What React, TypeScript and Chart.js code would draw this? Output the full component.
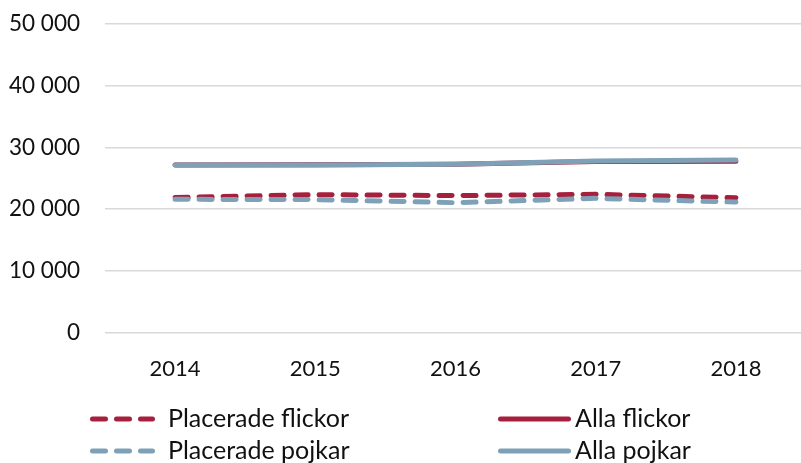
import React, { useEffect, useRef } from "react";
import { Chart, registerables } from "chart.js";

Chart.register(...registerables);

const years = ["2014", "2015", "2016", "2017", "2018"];
const placeradeFlickor = [21900, 22350, 22200, 22400, 21850];
const placeradePojkar = [21600, 21550, 21050, 21750, 21150];
const allaFlickor = [27150, 27200, 27250, 27700, 27750];
const allaPojkar = [27150, 27150, 27250, 27800, 27950];
const yTicks = [0, 10000, 20000, 30000, 40000, 50000];

const RED = "#A6203E";
const BLUE = "#7FA1B8";
const FONT = "Lato, 'Open Sans', sans-serif";
const TEXT = "#111";

const fmt = (v: number) => String(v).replace(/\B(?=(\d{3})+(?!\d))/g, " ");

const legendItems = [
  { label: "Placerade flickor", color: RED, dashed: true, x: 90, y: 419 },
  { label: "Alla flickor", color: RED, dashed: false, x: 498, y: 419 },
  { label: "Placerade pojkar", color: BLUE, dashed: true, x: 90, y: 451 },
  { label: "Alla pojkar", color: BLUE, dashed: false, x: 498, y: 451 },
];

export default function App() {
  const ref = useRef<HTMLCanvasElement | null>(null);

  useEffect(() => {
    if (!ref.current) return;
    const chart = new Chart(ref.current, {
      type: "line",
      data: {
        labels: years,
        datasets: [
          {
            label: "Placerade flickor",
            data: placeradeFlickor,
            borderColor: RED,
            borderWidth: 5,
            borderDash: [13, 11],
            borderCapStyle: "round",
            pointRadius: 0,
            tension: 0,
            order: 3,
          },
          {
            label: "Placerade pojkar",
            data: placeradePojkar,
            borderColor: BLUE,
            borderWidth: 5,
            borderDash: [13, 11],
            borderCapStyle: "round",
            pointRadius: 0,
            tension: 0,
            order: 2,
          },
          {
            label: "Alla flickor",
            data: allaFlickor,
            borderColor: RED,
            borderWidth: 5,
            borderCapStyle: "round",
            borderJoinStyle: "round",
            pointRadius: 0,
            tension: 0,
            order: 1,
          },
          {
            label: "Alla pojkar",
            data: allaPojkar,
            borderColor: BLUE,
            borderWidth: 5,
            borderCapStyle: "round",
            borderJoinStyle: "round",
            pointRadius: 0,
            tension: 0,
            order: 0,
          },
        ],
      },
      options: {
        responsive: false,
        animation: false,
        devicePixelRatio: 1,
        layout: { padding: { top: 9, right: 2, left: 0, bottom: 0 } },
        plugins: { legend: { display: false }, tooltip: { enabled: false } },
        scales: {
          x: {
            offset: true,
            grid: { display: false, drawTicks: false },
            border: { display: false },
            ticks: { color: TEXT, font: { family: FONT, size: 22 }, padding: 23, maxRotation: 0 },
            afterFit: (s: any) => {
              s.height = 67;
            },
          },
          y: {
            min: 0,
            max: 50000,
            afterBuildTicks: (s: any) => {
              s.ticks = yTicks.map((v) => ({ value: v }));
            },
            grid: { color: "#D9D9D9", lineWidth: 1.5, drawTicks: false },
            border: { display: false },
            ticks: {
              color: TEXT,
              font: { family: FONT, size: 22.5 },
              padding: 25,
              callback: (v: any) => fmt(Number(v)),
            },
            afterFit: (s: any) => {
              s.width = 105;
            },
          },
        },
      },
    });
    return () => chart.destroy();
  }, []);

  return (
    <div
      style={{
        position: "fixed",
        left: 0,
        top: 0,
        width: 801,
        height: 463,
        overflow: "hidden",
        background: "#fff",
      }}
    >
      <canvas
        ref={ref}
        width={808}
        height={415}
        style={{ display: "block", position: "absolute", left: 0, top: -15 }}
      />
      <svg width={801} height={463} style={{ position: "absolute", left: 0, top: 0 }}>
        {legendItems.map((it) =>
          it.dashed ? (
            <line
              key={it.label}
              x1={it.x + 2.5}
              x2={it.x + 62.5}
              y1={it.y}
              y2={it.y}
              stroke={it.color}
              strokeWidth={5}
              strokeLinecap="round"
              strokeDasharray="13 11"
            />
          ) : (
            <line
              key={it.label}
              x1={it.x + 2.5}
              x2={it.x + 70.5}
              y1={it.y}
              y2={it.y}
              stroke={it.color}
              strokeWidth={5}
              strokeLinecap="round"
            />
          )
        )}
      </svg>
      {legendItems.map((it) => (
        <div
          key={it.label + "t"}
          style={{
            position: "absolute",
            left: it.dashed ? it.x + 78 : it.x + 77,
            top: it.y - 18.5,
            height: 32,
            lineHeight: "32px",
            fontFamily: FONT,
            fontSize: 25,
            color: TEXT,
            whiteSpace: "nowrap",
          }}
        >
          {it.label}
        </div>
      ))}
    </div>
  );
}
